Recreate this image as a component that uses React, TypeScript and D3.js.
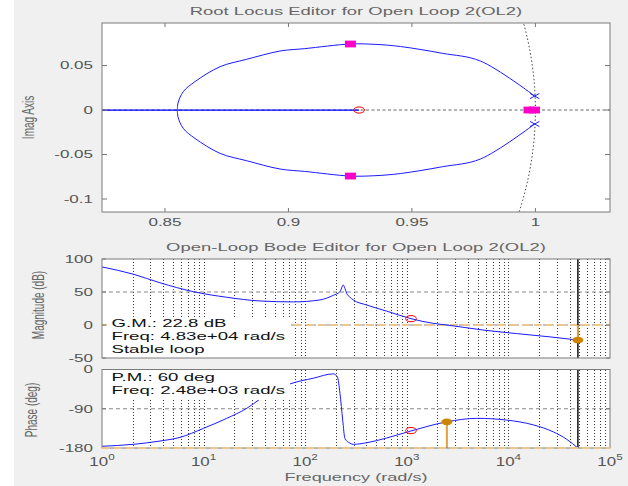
import React, { useEffect, useRef } from "react";
import * as d3 from "d3";

const upperRe = [0.855, 0.8553, 0.8574, 0.8621, 0.8723, 0.8831, 0.8966, 0.9066, 0.9251, 0.935, 0.9453, 0.9624, 0.9777, 0.9997];
const upperIm = [0, 0.008, 0.0206, 0.0318, 0.0487, 0.057, 0.0663, 0.069, 0.0742, 0.0738, 0.0714, 0.0637, 0.0551, 0.0157];
const lowerRe = [0.855, 0.8553, 0.8574, 0.8621, 0.8723, 0.8831, 0.8966, 0.9066, 0.9251, 0.935, 0.9453, 0.9624, 0.9777, 0.9997];
const lowerIm = [0, -0.008, -0.0206, -0.0318, -0.0487, -0.057, -0.0663, -0.069, -0.0742, -0.0738, -0.0714, -0.0637, -0.0551, -0.0157];
const realLocus = [0.8, 0.9286];
const olPolesRe = [0.9997, 0.9997, 1.0];
const olPolesIm = [0.0157, -0.0157, 0];
const olZeroRe = 0.9286;
const clPolesRe = [0.9251, 0.9251, 0.9974, 0.9996];
const clPolesIm = [0.0742, -0.0742, 0, 0];
const rlXTicks = [0.85, 0.9, 0.95, 1];
const rlYTicks = [-0.1, -0.05, 0, 0.05];

// open-loop bode
const magFreq = [1, 2.03, 3.72, 7.92, 16.9, 35.9, 76.4, 140, 189, 220, 237, 246, 256, 276, 297, 403, 634, 1099, 1824, 2480, 5623, 12070, 25650, 48300];
const magDb = [88, 77, 64, 50.5, 42, 36.4, 35, 38, 45, 50.5, 60.6, 55.6, 48, 42, 38, 30.3, 21, 9.6, 2.5, 0, -7.6, -13, -18, -22.8];
const phaseFreq = [1, 2.03, 3.72, 5.85, 9.95, 16.9, 26.6, 35.9, 50, 70.9, 120, 189, 207, 220, 234, 246, 276, 297, 403, 634, 1099, 2480, 4876, 9620, 17580, 27660, 37480, 48300];
const phaseDeg = [-176, -171.6, -164, -155.7, -135, -112, -89, -68, -48, -33, -20, -10, -16.5, -55, -116, -158, -169, -171.6, -168, -157, -141, -120, -112, -116, -127, -143, -160, -180];
const magTicks = [-50, 0, 50, 100];
const phaseTicks = [-180, -90, 0];
const decades = [0, 1, 2, 3, 4, 5];
const gmText = ["G.M.: 22.8 dB", "Freq: 4.83e+04 rad/s", "Stable loop"];
const pmText = ["P.M.: 60 deg", "Freq: 2.48e+03 rad/s"];
const gmFreq = 48300, gmDb = -22.8;
const pmFreq = 2480, pmDeg = -120;
const compZeroFreq = 1100, compZeroDb = 9.6, compZeroDeg = -140;

const W = 628, H = 486;
const FONT = '"Liberation Sans", Arial, Helvetica, sans-serif';
const rlBox = { l: 102, r: 610, t: 23, b: 212 };
const magBox = { l: 102, r: 610, t: 259, b: 358 };
const phBox = { l: 102, r: 610, t: 369.5, b: 448 };

function txt(g: any, x: number, y: number, s: string, o: any = {}) {
  const sx = o.sx ?? 1.65;
  return g
    .append("text")
    .attr("transform", `translate(${x},${y}) scale(${sx},1)${o.rotate ? " rotate(-90)" : ""}`)
    .attr("text-anchor", o.anchor ?? "middle")
    .attr("font-size", o.size ?? 10.5)
    .attr("fill", o.fill ?? "#555")
    .text(s);
}

function box(g: any, b: any, id: string) {
  g.append("clipPath").attr("id", id).append("rect")
    .attr("x", b.l).attr("y", b.t).attr("width", b.r - b.l).attr("height", b.b - b.t);
  g.append("rect").attr("x", b.l).attr("y", b.t).attr("width", b.r - b.l).attr("height", b.b - b.t).attr("fill", "#fff");
}

const App = () => {
  const ref = useRef<SVGSVGElement>(null);

  useEffect(() => {
    const svg = d3.select(ref.current);
    svg.selectAll("*").remove();
    svg.append("rect").attr("width", W).attr("height", H).attr("fill", "#fff");
    svg.append("rect").attr("x", 14).attr("width", W - 14).attr("height", H).attr("fill", "#f0f0f0");

    // ---------- root locus ----------
    const x = d3.scaleLinear().domain([0.8245, 1.0302]).range([rlBox.l, rlBox.r]);
    const y = d3.scaleLinear().domain([-0.1146, 0.0978]).range([rlBox.b, rlBox.t]);
    const rl = svg.append("g");
    box(rl, rlBox, "rlClip");
    const c = rl.append("g").attr("clip-path", "url(#rlClip)");

    const circ = d3.range(-0.13, 0.112, 0.004).map((v) => [x(Math.sqrt(1 - v * v)), y(v)] as [number, number]);
    c.append("path").attr("d", d3.line()(circ)).attr("fill", "none")
      .attr("stroke", "#444").attr("stroke-dasharray", "1.5,2.2");
    c.append("line").attr("x1", rlBox.l).attr("x2", rlBox.r).attr("y1", y(0)).attr("y2", y(0))
      .attr("stroke", "#666").attr("stroke-dasharray", "3,2.5");
    c.append("line").attr("x1", x(realLocus[0])).attr("x2", x(realLocus[1])).attr("y1", y(0)).attr("y2", y(0))
      .attr("stroke", "#0000ff").attr("stroke-width", 1.2);

    const branch = d3.line<number[]>().x((d) => x(d[0])).y((d) => y(d[1])).curve(d3.curveCatmullRom);
    [d3.zip(upperRe, upperIm), d3.zip(lowerRe, lowerIm)].forEach((pts) => {
      c.append("path").attr("d", branch(pts)).attr("fill", "none").attr("stroke", "#1a1aff").attr("stroke-width", 1);
    });

    olPolesRe.forEach((re, i) => {
      const px = x(re), py = y(olPolesIm[i]);
      c.append("path").attr("d", `M${px - 4.7},${py - 2.6}L${px + 4.7},${py + 2.6}M${px - 4.7},${py + 2.6}L${px + 4.7},${py - 2.6}`)
        .attr("stroke", "#2020ff").attr("stroke-width", 1);
    });
    c.append("ellipse").attr("cx", x(olZeroRe)).attr("cy", y(0)).attr("rx", 5.4).attr("ry", 3.1)
      .attr("fill", "none").attr("stroke", "#ff0000").attr("stroke-width", 1);
    clPolesRe.forEach((re, i) => {
      c.append("rect").attr("x", x(re) - 5.5).attr("y", y(clPolesIm[i]) - 3.4).attr("width", 11).attr("height", 6.8)
        .attr("fill", "#ff00c8");
    });

    rlXTicks.forEach((t) => {
      rl.append("line").attr("x1", x(t)).attr("x2", x(t)).attr("y1", rlBox.b).attr("y2", rlBox.b - 4).attr("stroke", "#777");
      rl.append("line").attr("x1", x(t)).attr("x2", x(t)).attr("y1", rlBox.t).attr("y2", rlBox.t + 4).attr("stroke", "#777");
      txt(rl, x(t), rlBox.b + 13.7, String(t), { sx: 1.62 });
    });
    rlYTicks.forEach((t) => {
      rl.append("line").attr("x1", rlBox.l).attr("x2", rlBox.l + 5).attr("y1", y(t)).attr("y2", y(t)).attr("stroke", "#777");
      rl.append("line").attr("x1", rlBox.r).attr("x2", rlBox.r - 5).attr("y1", y(t)).attr("y2", y(t)).attr("stroke", "#777");
      txt(rl, 93, y(t) + 3.8, String(t), { anchor: "end", sx: 1.62 });
    });
    rl.append("rect").attr("x", rlBox.l).attr("y", rlBox.t).attr("width", rlBox.r - rlBox.l).attr("height", rlBox.b - rlBox.t)
      .attr("fill", "none").attr("stroke", "#7a7a7a");
    txt(rl, 356, 14.7, "Root Locus Editor for Open Loop 2(OL2)", { size: 11.2, fill: "#666" });
    txt(rl, 34, 117.5, "Imag Axis", { size: 10, fill: "#666", rotate: true });

    // ---------- bode ----------
    const xb = d3.scaleLog().domain([1, 1e5]).range([magBox.l, magBox.r]);
    const ym = d3.scaleLinear().domain([-50, 100]).range([magBox.b, magBox.t]);
    const yp = d3.scaleLinear().domain([-180, 0]).range([phBox.b, phBox.t]);
    const gridF = xb.ticks().filter((f) => f > 1 && f < 1e5);

    const panel = (b: any, yS: any, yTicks: number[], id: string) => {
      const g = svg.append("g");
      box(g, b, id);
      const inner = g.append("g").attr("clip-path", `url(#${id})`);
      gridF.forEach((f) => {
        const px = Math.round(xb(f)) + 0.5;
        inner.append("line").attr("x1", px).attr("x2", px).attr("y1", b.t).attr("y2", b.b)
          .attr("stroke", "#3a3a3a").attr("stroke-dasharray", "1,2").attr("shape-rendering", "crispEdges");
      });
      yTicks.filter((t) => yS(t) > b.t + 1 && yS(t) < b.b - 1).forEach((t) => {
        inner.append("line").attr("x1", b.l).attr("x2", b.r).attr("y1", yS(t)).attr("y2", yS(t))
          .attr("stroke", "#888").attr("stroke-dasharray", "4,3");
      });
      return { g, inner };
    };

    const curve = (yS: any) =>
      d3.line<number[]>().x((d) => xb(d[0])).y((d) => yS(d[1])).curve(d3.curveMonotoneX);

    // magnitude
    const m = panel(magBox, ym, magTicks, "magClip");
    m.inner.append("line").attr("x1", magBox.l).attr("x2", magBox.r).attr("y1", ym(0)).attr("y2", ym(0))
      .attr("stroke", "#ecc690").attr("stroke-width", 2).attr("stroke-dasharray", "8,4");
    m.inner.append("line").attr("x1", xb(gmFreq)).attr("x2", xb(gmFreq)).attr("y1", magBox.t).attr("y2", magBox.b)
      .attr("stroke", "#111").attr("stroke-width", 1.5);
    m.inner.append("path").attr("d", curve(ym)(d3.zip(magFreq, magDb))).attr("fill", "none")
      .attr("stroke", "#1a1aff").attr("stroke-width", 1);
    m.inner.append("ellipse").attr("cx", xb(compZeroFreq)).attr("cy", ym(compZeroDb)).attr("rx", 5.4).attr("ry", 3.1)
      .attr("fill", "none").attr("stroke", "#ff0000");
    m.inner.append("line").attr("x1", xb(gmFreq)).attr("x2", xb(gmFreq)).attr("y1", ym(0)).attr("y2", ym(gmDb))
      .attr("stroke", "#e0a040").attr("stroke-width", 2);
    m.inner.append("ellipse").attr("cx", xb(gmFreq)).attr("cy", ym(gmDb)).attr("rx", 5.5).attr("ry", 3.3).attr("fill", "#cc8500");
    m.g.append("rect").attr("x", 107).attr("y", 317).attr("width", 183).attr("height", magBox.b - 317).attr("fill", "#fff");
    gmText.forEach((s, i) => txt(m.g, 111.5, 327.3 + i * 13, s, { anchor: "start", size: 11.3, fill: "#111" }));

    // phase
    const p = panel(phBox, yp, phaseTicks, "phClip");
    p.inner.append("line").attr("x1", xb(gmFreq)).attr("x2", xb(gmFreq)).attr("y1", phBox.t).attr("y2", phBox.b)
      .attr("stroke", "#111").attr("stroke-width", 1.5);
    p.inner.append("path").attr("d", curve(yp)(d3.zip(phaseFreq, phaseDeg))).attr("fill", "none")
      .attr("stroke", "#1a1aff").attr("stroke-width", 1);
    p.inner.append("ellipse").attr("cx", xb(compZeroFreq)).attr("cy", yp(compZeroDeg)).attr("rx", 5.4).attr("ry", 3.1)
      .attr("fill", "none").attr("stroke", "#ff0000");
    p.inner.append("line").attr("x1", xb(pmFreq)).attr("x2", xb(pmFreq)).attr("y1", yp(pmDeg)).attr("y2", yp(-180))
      .attr("stroke", "#e0a040").attr("stroke-width", 2);
    p.inner.append("ellipse").attr("cx", xb(pmFreq)).attr("cy", yp(pmDeg)).attr("rx", 5.5).attr("ry", 3.3).attr("fill", "#cc8500");
    p.g.append("rect").attr("x", 107).attr("y", phBox.t).attr("width", 183).attr("height", 400 - phBox.t).attr("fill", "#fff");
    pmText.forEach((s, i) => txt(p.g, 111.5, 381 + i * 13, s, { anchor: "start", size: 11.3, fill: "#111" }));

    // axes frames, ticks, labels
    [[m.g, magBox, ym, magTicks], [p.g, phBox, yp, phaseTicks]].forEach(([g, b, yS, ticks]: any) => {
      ticks.forEach((t: number) => {
        g.append("line").attr("x1", b.l).attr("x2", b.l + 4).attr("y1", yS(t)).attr("y2", yS(t)).attr("stroke", "#777");
        g.append("line").attr("x1", b.r).attr("x2", b.r - 4).attr("y1", yS(t)).attr("y2", yS(t)).attr("stroke", "#777");
        txt(g, 93, yS(t) + 3.8, String(t), { anchor: "end", sx: 1.62 });
      });
      g.append("rect").attr("x", b.l).attr("y", b.t).attr("width", b.r - b.l).attr("height", b.b - b.t)
        .attr("fill", "none").attr("stroke", "#7a7a7a");
    });
    p.g.append("line").attr("x1", phBox.l).attr("x2", phBox.r).attr("y1", yp(-180)).attr("y2", yp(-180))
      .attr("stroke", "#ecc690").attr("stroke-width", 2).attr("stroke-dasharray", "8,4");

    decades.forEach((d) => {
      const t = txt(p.g, xb(Math.pow(10, d)), 466, "10", { size: 13, sx: 1.3 });
      t.append("tspan").attr("dy", -6.5).attr("font-size", 9).text(String(d));
    });
    txt(svg, 356, 481, "Frequency (rad/s)", { size: 11, fill: "#666" });
    txt(svg, 356, 251, "Open-Loop Bode Editor for Open Loop 2(OL2)", { size: 11.2, fill: "#666" });
    txt(svg, 44, 305, "Magnitude (dB)", { size: 10, fill: "#666", rotate: true });
    txt(svg, 37, 410, "Phase (deg)", { size: 10, fill: "#666", rotate: true });
  }, []);

  return (
    <div style={{ position: "absolute", left: 0, top: 0 }}>
      <svg ref={ref} width={W} height={H} style={{ display: "block" }} fontFamily={FONT}></svg>
    </div>
  );
};

export default App;
